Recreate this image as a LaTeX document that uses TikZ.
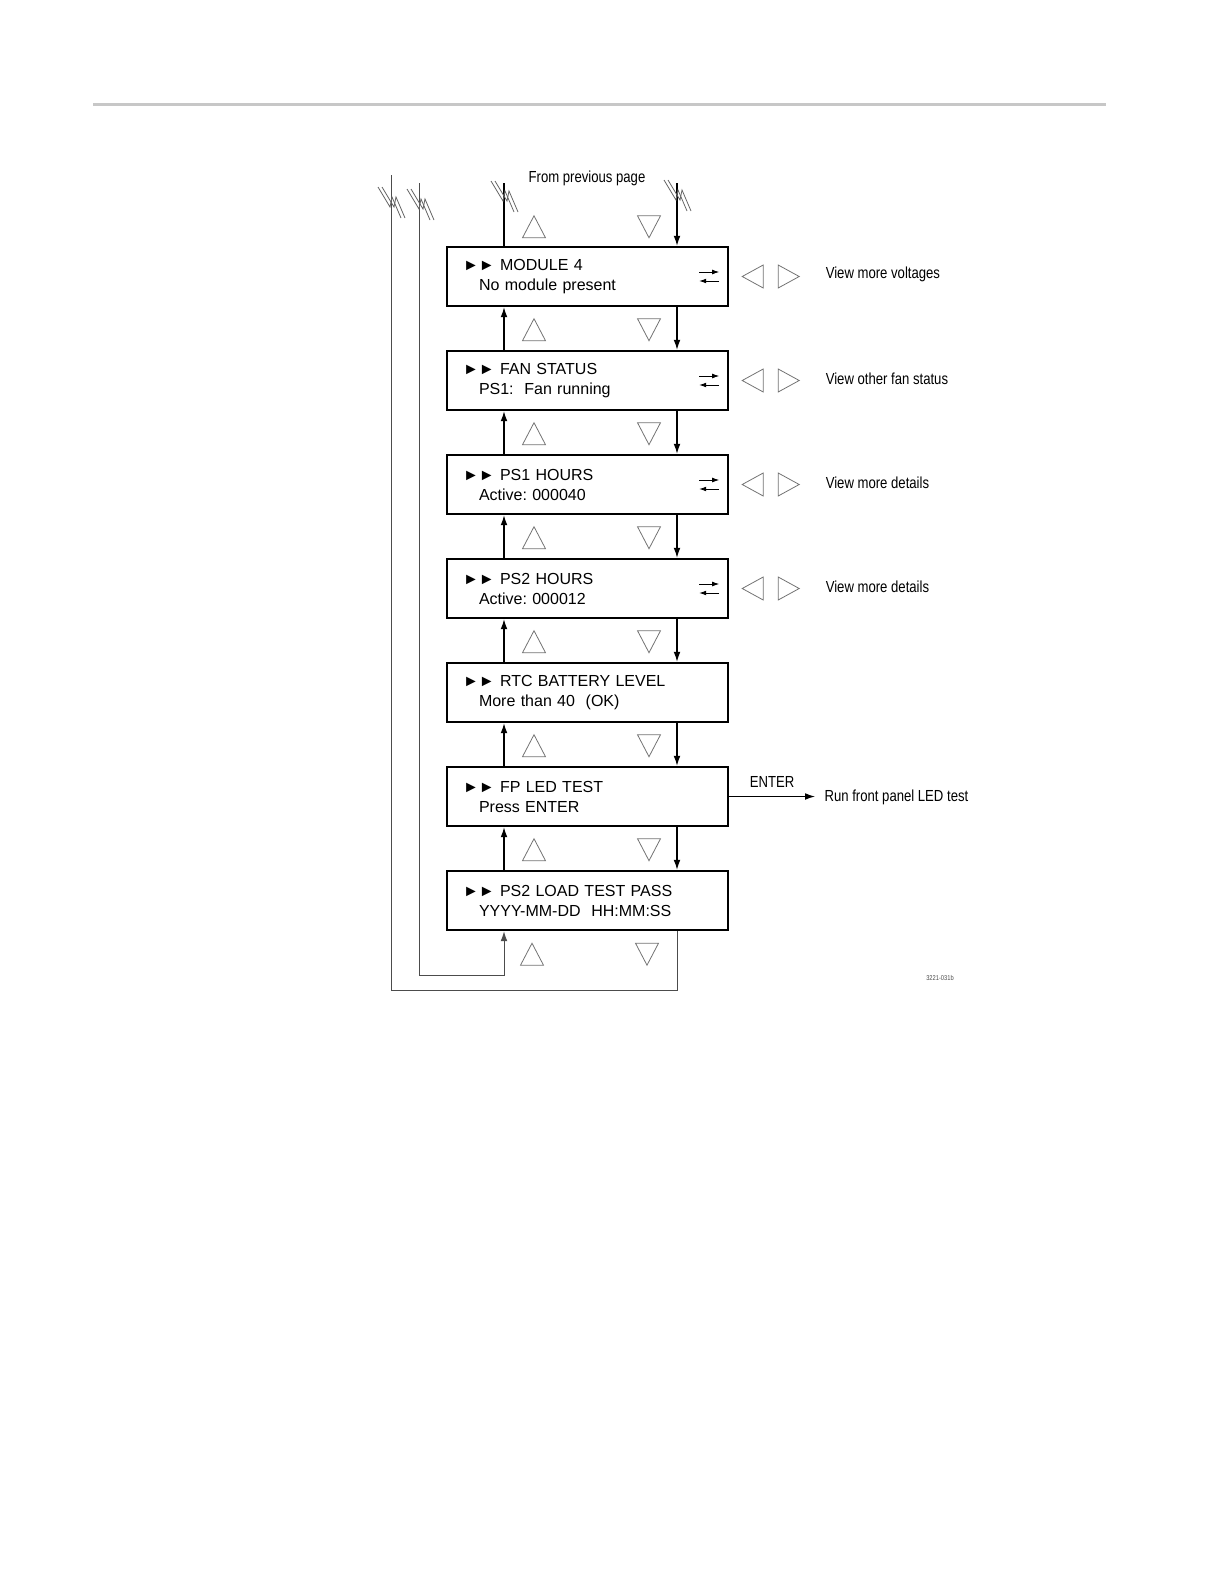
\documentclass[tikz,border=0pt]{standalone}
\usepackage{fontspec}
\setmainfont{Liberation Sans}
\newfontfamily\narrowfont[FakeStretch=0.82]{Liberation Sans}
\usetikzlibrary{positioning,calc,arrows.meta}
\frenchspacing

\begin{document}
\begin{tikzpicture}[
x=0.5pt, y=-0.5pt,
screen/.style={
  draw,
  line width=1.2pt,
  minimum width=140.5pt,
  minimum height=29.5pt,
  text width=124.5pt,
  inner xsep=8pt,
  align=left,
  font=\fontsize{8}{10}\selectfont
  },
sidetext/.style={
  inner sep=0pt,
  font=\narrowfont\fontsize{8}{10}\selectfont
  },
tri/.style={
  draw=black!55,
  line width=0.4pt
  },
wire/.style={
  draw=black!70,
  line width=0.5pt
  },
brk/.style={
  draw=black!60,
  line width=0.4pt
  },
swap/.style={
  line width=0.4pt,
  -{Latex[length=3.5pt,width=2.4pt]}
  },
uptri/.pic={\draw[tri] (-11.5,11) -- (0,-11) -- (11.5,11) -- cycle;},
dntri/.pic={\draw[tri] (-11.5,-11) -- (0,11) -- (11.5,-11) -- cycle;},
lftri/.pic={\draw[tri] (10.5,-11.5) -- (-10.5,0) -- (10.5,11.5) -- cycle;},
rttri/.pic={\draw[tri] (-10.5,-11.5) -- (10.5,0) -- (-10.5,11.5) -- cycle;},
zap/.pic={
  \draw[brk] (-13,-16) -- (-1,4) -- (1,-6) -- (10,15);
  \draw[brk] (-9,-16) -- (3,4) -- (5,-6) -- (14,15);
  },
node distance=21.3pt,
line width=0.6pt,
>={Latex[length=5pt,width=3.4pt]}
]
\useasboundingbox (0,0) rectangle (1224,1584);

% page rule
\draw[black!22, line width=1.5pt] (93,105) -- (1106,105);

% menu screens
\node[screen] (mod) at (587.5,276.5) {►►\ MODULE 4\\\hspace*{8pt}No module present};
\node[screen, below=of mod] (fan) {►►\ FAN STATUS\\\hspace*{8pt}PS1:\ \ Fan running};
\node[screen, below=of fan] (hrsa) {►►\ PS1 HOURS\\\hspace*{8pt}Active: 000040};
\node[screen, below=of hrsa] (hrsb) {►►\ PS2 HOURS\\\hspace*{8pt}Active: 000012};
\node[screen, below=of hrsb] (rtc) {►►\ RTC BATTERY LEVEL\\\hspace*{8pt}More than 40\ \ (OK)};
\node[screen, below=of rtc] (led) {►►\ FP LED TEST\\\hspace*{8pt}Press ENTER};
\node[screen, below=of led] (load) {►►\ PS2 LOAD TEST PASS\\\hspace*{8pt}YYYY-MM-DD\ \ HH:MM:SS};

\coordinate (upx) at (504,0);
\coordinate (dnx) at (677,0);
\coordinate (uptx) at (534,0);
\coordinate (dntx) at (649,0);

\foreach \a/\b in {mod/fan,fan/hrsa,hrsa/hrsb,hrsb/rtc,rtc/led,led/load}
{
  \draw[->] (\b.north -| upx) -- (\a.south -| upx);
  \draw[->] (\a.south -| dnx) -- (\b.north -| dnx);
  \pic at ($(\a.south -| uptx)+(0,22.5)$) {uptri};
  \pic at ($(\a.south -| dntx)+(0,22.5)$) {dntri};
}

% from previous page
\node[sidetext] (prev) at (587,178) {From previous page};
\coordinate (uptop) at (504,183);
\coordinate (dntop) at (677,183);
\draw (mod.north -| upx) -- (uptop);
\draw[->] (dntop) -- (mod.north -| dnx);
\pic at ($(mod.north -| uptx)+(0,-19)$) {uptri};
\pic at ($(mod.north -| dntx)+(0,-19)$) {dntri};

% wrap around lines
\coordinate (outtop) at (391,175);
\coordinate (outbot) at (391,990);
\coordinate (intop) at (419,183);
\coordinate (inbot) at (419,975);
\draw[wire] (load.south -| dnx) |- (outbot) -- (outtop);
\draw[wire,->] (intop) -- (inbot) -| (load.south -| upx);
\pic at ($(load.south -| uptx)+(-2,23)$) {uptri};
\pic at ($(load.south -| dntx)+(-2,23)$) {dntri};

\pic at (391,203) {zap};
\pic at (420,205) {zap};
\pic at (504,197) {zap};
\pic at (677,196) {zap};

% left/right keys
\foreach \b/\t in {mod/View more voltages,fan/View other fan status,hrsa/View more details,hrsb/View more details}
{
  \draw[swap] ($(\b.east)+(-30,-4.5)$) -- ($(\b.east)+(-10,-4.5)$);
  \draw[swap] ($(\b.east)+(-10,4.5)$) -- ($(\b.east)+(-30,4.5)$);
  \pic at ($(\b.east)+(23.5,0)$) {lftri};
  \pic at ($(\b.east)+(59.5,0)$) {rttri};
  \node[sidetext, anchor=west] (v\b) at ($(\b.east)+(96,-2)$) {\t};
}

% enter
\node[sidetext, anchor=west] (run) at (824,797) {Run front panel LED test};
\draw[->] (led.east) -- node[sidetext, above=4pt] (enter) {ENTER} ($(led.east -| run.west)+(-9,0)$);

\node[sidetext, font=\narrowfont\fontsize{3.5}{4}\selectfont, text=black!70] (figid) at (940,978) {3221-031b};
\end{tikzpicture}
\end{document}
